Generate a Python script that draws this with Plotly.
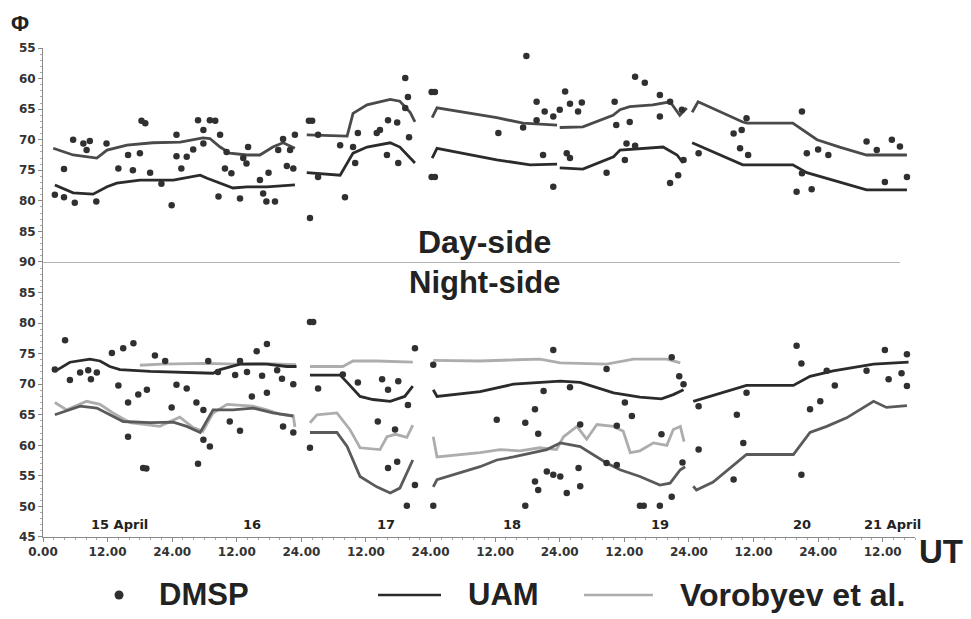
import plotly.graph_objects as go

# ---------------- DATA (hours since 15 April 00 UT, latitude in degrees) -------------
N = None
# Day-side model curves (UAM)
DAY_UP_H = [1.9, 5.6, 10, 11.9, 15.6, 20.4, 25.5, 29.7, 31, 32.9, 34.7, 37.9, 40.3, 42.7, 44.6, 46.8, N,
            49, 56.5, 57.6, 60.2, 64.5, 66.3, 68.2, 69.1, N,
            72.3, 73.2, 84.3, 89.2, 95.5, N,
            96, 100.3, 105.9, 107.2, 109, 113.3, 116.5, 118.3, 119.6, N,
            120.6, 121.7, 130, 130.8, 139.3, 143.8, 148, 153, 160.5]
DAY_UP_V = [71.4, 72.5, 73, 71.7, 70.9, 70.5, 70.4, 69.7, 69.8, 71.2, 72.2, 72.5, 72.5, 71.2, 70.5, 71.4, N,
            69.2, 69.4, 65.7, 64.3, 63.4, 63.7, 65.5, 67.1, N,
            66.4, 64.8, 66.4, 67.3, 67.6, N,
            68, 67.9, 66, 65.1, 64.6, 64.3, 63.8, 66, 64.8, N,
            65.5, 63.8, 67.1, 67.3, 67.3, 70, 71.2, 72.5, 72.5]
DAY_LO_H = [2.2, 5.6, 9.3, 11.9, 13.7, 18, 24.2, 29.2, 30.5, 32.9, 35.3, 37.9, 41.6, 46.8, N,
            49, 55.2, 57.6, 60.2, 64.5, 66.3, 69.1, N,
            72.3, 73.2, 84.3, 90.5, 95.5, N,
            96, 100.3, 106, 107.2, 115.2, 117.8, 118.9, N,
            120.6, 130, 139.3, 141.9, 153, 160.5]
DAY_LO_V = [77.4, 78.7, 78.9, 77.7, 77.1, 76.6, 76.6, 75.8, 76.3, 77.1, 77.9, 77.7, 77.7, 77.4, N,
            75.4, 75.8, 72.2, 71.2, 70.5, 71.2, 73.8, N,
            73, 71.4, 73.3, 74.1, 74, N,
            74.6, 74.8, 72.8, 71.7, 71.2, 72.5, 73.8, N,
            70.5, 74.1, 74.1, 75.4, 78.2, 78.2]

# Night-side UAM curves
NIGHT_UAM_UP_H = [2.2, 5, 8.7, 10.6, 12.4, 14.3, 19.9, 25.4, 31.6, 32.9, 36.6, 41.6, 45.3, 47.1, N,
                  49.6, 55.2, 56.5, 58.9, 61.3, 64.5, 67.2, 68.7, N,
                  72.5, 73.2, 81.2, 87.4, 96.1, 99.8, 106, 110.9, 114.9, 117.1, 119, N,
                  120.8, 130.7, 139.4, 142.5, 146.8, 154.3, 160.8]
NIGHT_UAM_UP_V = [72.1, 73.6, 74.1, 73.8, 72.9, 72.4, 72.1, 72, 71.8, 72.4, 73.3, 73.3, 72.9, 72.9, N,
                  71.5, 71.5, 70.3, 68, 67.5, 67.2, 68, 69.7, N,
                  69.1, 68, 68.8, 70, 70.5, 70.3, 68.6, 67.9, 67.6, 68.3, 69.1, N,
                  67.2, 69.8, 69.8, 71.3, 72.2, 73.3, 73.6]
NIGHT_UAM_LO_H = [2.2, 6.9, 10, 13, 14.9, 19.9, 24.2, 26.7, 29.2, 31.6, 35.3, 39, 42.7, 46.5, N,
                  49.6, 54.6, 56.5, 58.9, 62, 64.5, 66.3, 68.7, N,
                  72.5, 73.2, 81.2, 84.3, 87.4, 93.6, 96.1, 99.8, 104.7, 107.2, 110.9, 114.6, 116.5, 118.4, 119.3, N,
                  120.8, 121.4, 124.5, 130.7, 139.4, 142.5, 145.6, 149.3, 154.3, 156.7, 160.5]
NIGHT_UAM_LO_V = [65, 66.4, 66.1, 64.8, 63.9, 63.7, 63.8, 63.1, 62.1, 65.8, 65.8, 66.1, 65.3, 64.8, N,
                  62.1, 62.1, 59.8, 54.9, 53.2, 52.2, 53, 57.6, N,
                  53.2, 54.4, 56.5, 57.6, 58.1, 59.3, 60.4, 59.8, 57.1, 56, 54.9, 53.5, 53.8, 56, 56.5, N,
                  53.3, 52.7, 54, 58.5, 58.5, 62.1, 63.1, 64.5, 67.2, 66.2, 66.5]

# Night-side Vorobyev et al. curves
NIGHT_VOR_UP_H = [18, 22, 30, 36, 40, 47, N,
                  49.6, 55.7, 57.6, 62, 68.7, N,
                  72.5, 81.2, 88, 92.3, 96.1, 104.7, 109.7, 115.9, 118.4]
NIGHT_VOR_UP_V = [73.1, 73.3, 73.4, 73.3, 73.4, 73.2, N,
                  72.9, 72.9, 73.8, 73.8, 73.6, N,
                  73.9, 73.8, 74, 74.1, 73.5, 73.3, 74.1, 74.1, 73.5]
NIGHT_VOR_LO_H = [2.2, 4.4, 8.1, 10.6, 13, 16.2, 21.7, 25.4, 27.9, 29.7, 31.6, 34.2, 39, 41.6, 44, 46.5, 46.8, N,
                  49.6, 50.9, 54.6, 57, 58.9, 62.6, 63.9, 65.5, 67.6, 68.7, N,
                  72.5, 73.2, 81.2, 84.9, 88.6, 92.3, 95.4, 96.7, 99.2, 101, 102.9, 106, 107.8, 109.1, 110.9,
                  113.4, 115.9, 117.1, 118.4, 119.1]
NIGHT_VOR_LO_V = [67, 65.8, 67.2, 66.7, 65.3, 63.7, 63.1, 64.6, 62.9, 62.3, 65.3, 66.7, 66.4, 65.8, 65.1, 64.8, 63, N,
                  63.7, 65, 65.3, 62.6, 59.6, 59.3, 61.4, 61.8, 61.3, 63.3, N,
                  61.4, 58.1, 58.8, 59.3, 59.1, 59.6, 59.3, 61.4, 63.1, 61, 63.4, 63.1, 62.3, 58.8, 59.1,
                  60.4, 60, 62.6, 63.1, 60.6]

# DMSP observations (hour, latitude)
DMSP_DAY = [
    (2.2, 79.0), (3.9, 79.4), (5.9, 80.3), (9.9, 80.1), (3.9, 74.8), (5.6, 70.0), (7.5, 70.6), (8.7, 70.2),
    (8.1, 71.7), (11.8, 70.6), (14.0, 74.7), (15.8, 72.5), (16.7, 75.0), (18.0, 72.2), (19.9, 75.4),
    (18.3, 66.9), (19.0, 67.3), (22.0, 77.2), (23.9, 80.7), (24.8, 69.2), (24.8, 72.7), (26.7, 72.8),
    (25.7, 74.7), (27.9, 71.6), (28.8, 66.8), (29.8, 68.4), (31.0, 66.8), (32.0, 66.9), (32.9, 69.2),
    (29.8, 70.6), (33.8, 74.7), (35.0, 75.5), (32.6, 79.3), (36.6, 79.6), (34.1, 72.0), (37.2, 73.0),
    (37.8, 73.9), (38.1, 71.2), (40.3, 76.6), (40.9, 78.8), (41.5, 80.1), (43.1, 80.1), (41.9, 75.4),
    (43.7, 71.7), (44.6, 69.9), (45.3, 74.3), (46.5, 74.7), (46.8, 69.2), (45.9, 71.7),
    (49.4, 66.9), (50.0, 66.9), (49.6, 82.8), (51.1, 69.2), (51.1, 76.1), (56.1, 79.4), (55.2, 70.9),
    (57.6, 71.2), (58.0, 73.8), (58.5, 68.9), (62.0, 68.9), (62.6, 68.4), (64.1, 66.8), (65.8, 67.2),
    (63.9, 72.5), (66.0, 73.8), (67.3, 59.9), (67.8, 63.0), (67.3, 64.8), (68.0, 69.6),
    (72.2, 62.2), (72.8, 62.2), (72.2, 76.1), (72.8, 76.1), (84.6, 68.9), (89.2, 68.0), (89.8, 56.3),
    (91.7, 63.8), (93.2, 65.4), (91.7, 66.8), (94.8, 66.2), (96.0, 65.1), (97.0, 62.1), (97.9, 64.1),
    (99.4, 65.4), (100.1, 63.9), (106.2, 63.8), (106.5, 67.6), (92.9, 72.5), (97.3, 72.2), (97.9, 73.0),
    (94.8, 77.7), (104.7, 75.4), (108.1, 73.3),
    (110.0, 59.7), (111.8, 60.7), (114.6, 62.7), (116.5, 63.8), (118.7, 65.1), (114.6, 66.2),
    (109.0, 67.1), (108.4, 70.6), (110.0, 71.0), (119.0, 73.3), (118.0, 75.8), (116.5, 77.1),
    (121.8, 72.2), (128.3, 69.0), (129.8, 68.4), (129.5, 71.4), (131.0, 72.5), (130.7, 66.5),
    (141.0, 65.4), (141.9, 72.2), (144.0, 71.6), (145.9, 72.5), (141.0, 75.5), (140.0, 78.5),
    (142.8, 78.1), (153.0, 70.3), (154.9, 71.7), (157.7, 70.0), (159.2, 71.1), (156.4, 76.9), (160.5, 76.1),
]
DMSP_NIGHT = [
    (2.2, 72.4), (4.1, 77.2), (5.0, 70.7), (6.9, 71.9), (8.4, 72.3), (8.9, 70.8), (10.0, 71.9),
    (12.8, 75.1), (14.0, 69.8), (14.9, 75.9), (15.8, 67.0), (15.8, 61.4), (16.8, 76.7), (17.7, 68.3),
    (18.6, 56.3), (19.2, 56.2), (19.3, 69.1), (20.8, 74.7), (22.7, 73.8), (23.9, 66.2), (24.8, 69.9),
    (26.7, 69.3), (28.5, 67.0), (29.8, 65.8), (28.8, 57.0), (29.8, 60.9), (31.0, 59.8), (30.7, 73.8),
    (32.5, 72.0), (34.7, 63.9), (36.6, 62.4), (35.7, 71.5), (36.6, 73.8), (37.9, 72.0), (38.8, 68.0),
    (39.7, 75.4), (41.6, 76.6), (40.7, 71.4), (41.6, 68.6), (43.5, 72.3), (44.4, 70.9), (46.5, 70.0),
    (44.6, 63.1), (46.5, 62.1),
    (49.6, 80.2), (50.2, 80.2), (49.6, 59.6), (51.1, 69.3), (55.7, 71.6), (58.5, 70.3), (62.2, 63.9),
    (63.0, 70.8), (64.1, 69.1), (66.0, 70.5), (67.8, 66.6), (69.1, 75.9), (64.1, 56.3), (65.8, 57.3),
    (67.6, 50.1), (69.1, 53.5), (65.4, 62.6),
    (72.5, 73.2), (72.5, 50.1), (84.3, 64.2), (89.6, 63.7), (91.4, 65.9), (92.0, 61.9), (93.0, 68.9),
    (94.8, 75.6), (97.9, 69.5), (99.8, 63.4), (99.5, 56.3), (104.7, 72.5), (106.6, 63.2), (104.7, 57.1),
    (108.1, 67.0), (109.4, 64.8), (110.9, 50.1), (111.6, 50.1), (114.6, 50.1), (114.9, 61.8),
    (116.8, 51.6), (116.8, 74.4), (118.2, 71.3), (119.0, 70.0), (118.8, 57.2), (121.8, 59.3),
    (121.8, 66.4), (128.3, 54.4), (128.9, 65.0), (130.1, 60.4), (130.7, 68.6), (140.0, 76.3),
    (140.9, 73.4), (140.9, 55.2), (142.5, 65.9), (144.4, 67.2), (145.6, 72.2), (147.1, 69.8),
    (153.0, 72.2), (156.4, 75.6), (160.5, 74.9), (159.5, 71.8), (157.1, 70.8), (160.5, 69.7),
    (91.4, 54.1), (93.6, 55.7), (94.8, 55.2), (92.0, 52.7), (89.6, 50.1), (97.3, 52.2), (99.8, 53.3),
    (96.1, 54.9), (106.6, 56.8),
]

X_TICKS = [0, 12, 24, 36, 48, 60, 72, 84, 96, 108, 120, 132, 144, 156]
X_TICK_TEXT = ["0.00", "12.00", "24.00", "12.00", "24.00", "12.00", "24.00",
               "12.00", "24.00", "12.00", "24.00", "12.00", "24.00", "12.00"]
DAY_LABELS = ["15 April", "16", "17", "18", "19", "20", "21 April"]
DAY_LABEL_H = [14.3, 38.8, 63.7, 87.1, 114.6, 141, 157.9]
TOP_TICKS = [55, 60, 65, 70, 75, 80, 85, 90]
BOT_TICKS = [45, 50, 55, 60, 65, 70, 75, 80, 85]

# ---------------- FIGURE -------------
UAM_C = "#2b2b2b"
UAM2_C = "#5a5a5a"
VOR_C = "#adadad"
DOT_C = "#303030"
FONT = "Liberation Sans, Arial, sans-serif"
TICKFONT = "DejaVu Sans, sans-serif"

fig = go.Figure()

def line(h, v, color, axes, width=2.8):
    fig.add_trace(go.Scatter(x=h, y=v, mode="lines", line=dict(color=color, width=width),
                             connectgaps=False, showlegend=False, hoverinfo="skip",
                             xaxis=axes[0], yaxis=axes[1]))

TOP = ("x2", "y2")
BOT = ("x", "y")
line(DAY_UP_H, DAY_UP_V, "#4a4a4a", TOP)
line(DAY_LO_H, DAY_LO_V, UAM_C, TOP)
line(NIGHT_VOR_UP_H, NIGHT_VOR_UP_V, VOR_C, BOT)
line(NIGHT_VOR_LO_H, NIGHT_VOR_LO_V, VOR_C, BOT)
line(NIGHT_UAM_UP_H, NIGHT_UAM_UP_V, UAM_C, BOT)
line(NIGHT_UAM_LO_H, NIGHT_UAM_LO_V, UAM2_C, BOT)

fig.add_trace(go.Scatter(x=[p[0] for p in DMSP_DAY], y=[p[1] for p in DMSP_DAY], mode="markers",
                         marker=dict(color=DOT_C, size=6.5), showlegend=False, xaxis="x2", yaxis="y2"))
fig.add_trace(go.Scatter(x=[p[0] for p in DMSP_NIGHT], y=[p[1] for p in DMSP_NIGHT], mode="markers",
                         marker=dict(color=DOT_C, size=6.5), showlegend=False, xaxis="x", yaxis="y"))

split = 0.5624
axis_common = dict(showline=True, linecolor="#8a8a8a", linewidth=1, ticks="outside", tickcolor="#8a8a8a",
                   ticklen=4, showgrid=False, zeroline=False,
                   tickfont=dict(family=TICKFONT, size=12, color="#333", weight="bold"))
fig.update_layout(
    width=963, height=611,
    margin=dict(l=35, r=56, t=40, b=82),
    paper_bgcolor="white", plot_bgcolor="white",
    xaxis=dict(domain=[0, 1], range=[0, 162], anchor="y", tickvals=X_TICKS, ticktext=X_TICK_TEXT,
               minor=dict(ticks="outside", dtick=2, ticklen=2, tickcolor="#aaa"), **axis_common),
    xaxis2=dict(domain=[0, 1], range=[0, 162], anchor="y2", matches="x", visible=False),
    yaxis=dict(domain=[0, split], range=[45, 90], anchor="x", tickvals=BOT_TICKS,
               minor=dict(ticks="outside", dtick=1, ticklen=2, tickcolor="#aaa"), **axis_common),
    yaxis2=dict(domain=[split, 1], range=[90, 55], anchor="x2", tickvals=TOP_TICKS,
                minor=dict(ticks="outside", dtick=1, ticklen=2, tickcolor="#aaa"), **axis_common),
    showlegend=False,
)

# Day / night divider at 90 degrees
fig.add_shape(type="line", xref="x", yref="y", x0=0, x1=159.2, y0=90, y1=90,
              line=dict(color="#9a9a9a", width=1.5))

bold = dict(family=FONT, color="#222", weight="bold")
fig.add_annotation(x=82.1, y=86.7, xref="x2", yref="y2", text="Day-side", showarrow=False,
                   xanchor="center", yanchor="middle", font=dict(size=32, **bold))
fig.add_annotation(x=82.1, y=86.7, xref="x", yref="y", text="Night-side", showarrow=False,
                   xanchor="center", yanchor="middle", font=dict(size=31, **bold))
for lab, h in zip(DAY_LABELS, DAY_LABEL_H):
    fig.add_annotation(x=h, y=47.1, xref="x", yref="y", text=lab, showarrow=False,
                       xanchor="center", yanchor="middle",
                       font=dict(family=TICKFONT, size=13, color="#222", weight="bold"))

fig.add_annotation(x=-0.0264, y=1.0511, xref="paper", yref="paper", text="Φ", showarrow=False,
                   xanchor="center", yanchor="middle", font=dict(size=22, **bold))
fig.add_annotation(x=1.002, y=-0.029, xref="paper", yref="paper", text="UT", showarrow=False,
                   xanchor="left", yanchor="middle", font=dict(size=33, **bold))

# legend (drawn manually)
ly = -0.1186
fig.add_shape(type="circle", xref="paper", yref="paper", xsizemode="pixel", ysizemode="pixel",
              xanchor=0.0872, yanchor=ly, x0=-4.5, x1=4.5, y0=-4.5, y1=4.5,
              fillcolor=DOT_C, line=dict(width=0))
fig.add_annotation(x=0.1307, y=ly, xref="paper", yref="paper", text="DMSP", showarrow=False,
                   xanchor="left", yanchor="middle", font=dict(size=31, **bold))
fig.add_shape(type="line", xref="paper", yref="paper", x0=0.3842, x1=0.4564, y0=ly, y1=ly,
              line=dict(color=UAM_C, width=2.5))
fig.add_annotation(x=0.4851, y=ly, xref="paper", yref="paper", text="UAM", showarrow=False,
                   xanchor="left", yanchor="middle", font=dict(size=31, **bold))
fig.add_shape(type="line", xref="paper", yref="paper", x0=0.6204, x1=0.6995, y0=ly, y1=ly,
              line=dict(color=VOR_C, width=2.5))
fig.add_annotation(x=0.7282, y=ly, xref="paper", yref="paper", text="Vorobyev et al.", showarrow=False,
                   xanchor="left", yanchor="middle", font=dict(size=32, **bold))

fig.write_html("out.html")
